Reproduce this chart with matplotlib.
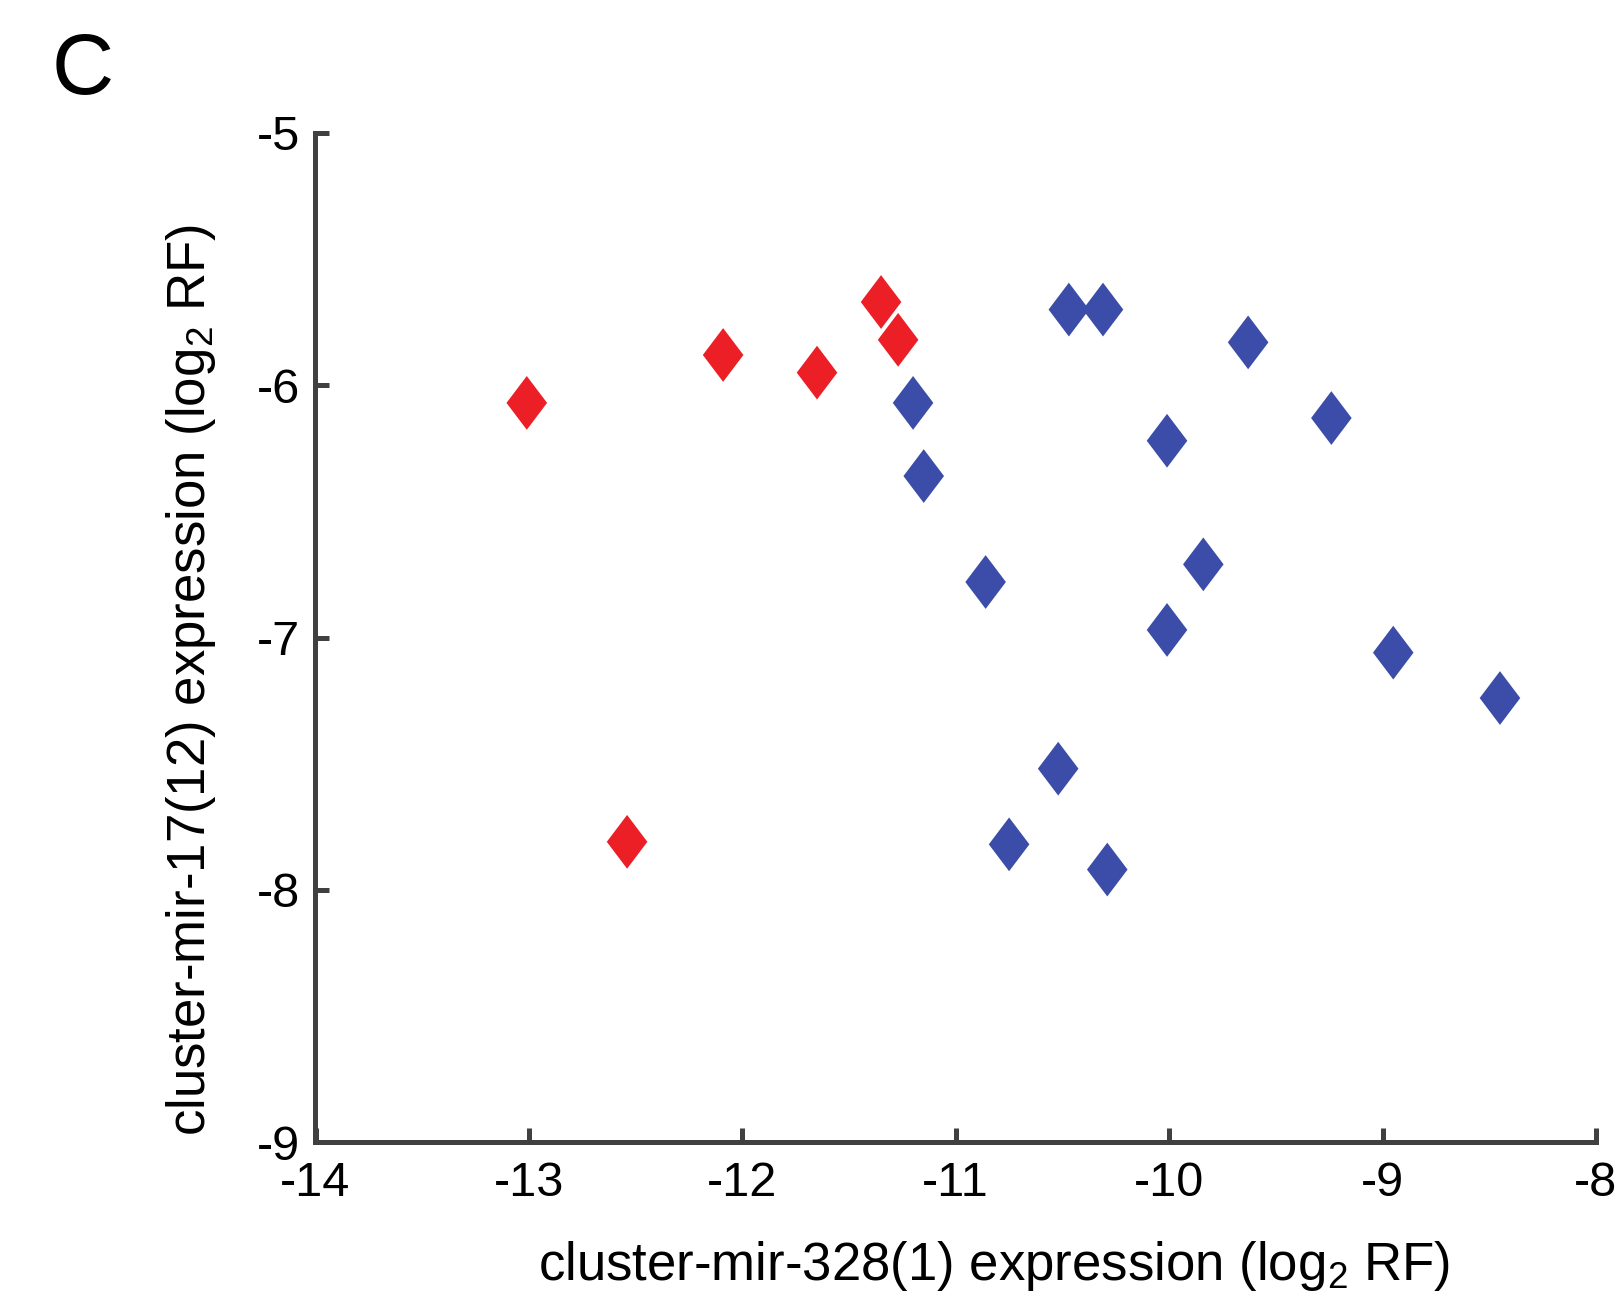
import matplotlib
matplotlib.use("Agg")
import matplotlib.pyplot as plt

# Expression values (log2 RF): x = cluster-mir-328(1), y = cluster-mir-17(12)
red_x = [-13.01, -12.54, -12.09, -11.65, -11.35, -11.27]
red_y = [-6.07, -7.81, -5.88, -5.95, -5.67, -5.82]

blue_x = [-11.20, -11.15, -10.86, -10.75, -10.52, -10.47, -10.31, -10.29,
          -10.01, -10.01, -9.84, -9.63, -9.24, -8.95, -8.45]
blue_y = [-6.07, -6.36, -6.78, -7.82, -7.52, -5.70, -5.70, -7.92,
          -6.22, -6.97, -6.71, -5.83, -6.13, -7.06, -7.24]

x_ticks = [-14, -13, -12, -11, -10, -9, -8]
y_ticks = [-9, -8, -7, -6, -5]

RED = "#ED1F26"
BLUE = "#3B4DA8"
AXIS_GREY = "#404040"

plt.rcParams["font.family"] = ["Liberation Sans", "DejaVu Sans"]
plt.rcParams["mathtext.fontset"] = "custom"
plt.rcParams["mathtext.rm"] = "Liberation Sans"
plt.rcParams["mathtext.it"] = "Liberation Sans"

W, H = 1624, 1298
fig = plt.figure(figsize=(W / 100, H / 100), dpi=100)
ax = fig.add_axes([315.5 / W, 1 - 1142 / H, (1596 - 315.5) / W, (1142 - 133) / H])

# tall, narrow diamond marker
diamond = [(0, 1), (0.755, 0), (0, -1), (-0.755, 0), (0, 1)]
msize = 38.7 ** 2
ax.scatter(red_x, red_y, marker=diamond, s=msize, c=RED, edgecolors="none", zorder=3)
ax.scatter(blue_x, blue_y, marker=diamond, s=msize, c=BLUE, edgecolors="none", zorder=3)

ax.set_xlim(-14, -8)
ax.set_ylim(-9, -5)
ax.set_xticks(x_ticks)
ax.set_yticks(y_ticks)
ax.set_xticklabels([f"{v}" for v in x_ticks])
ax.set_yticklabels([f"{v}" for v in y_ticks])

for side in ("top", "right"):
    ax.spines[side].set_visible(False)
for side in ("left", "bottom"):
    ax.spines[side].set_color(AXIS_GREY)
    ax.spines[side].set_linewidth(3.6)
    ax.spines[side].set_capstyle("projecting")

ax.tick_params(axis="both", direction="in", length=10.4, width=3.6,
               color=AXIS_GREY, labelsize=35, labelcolor="black")
ax.tick_params(axis="x", pad=14)
ax.tick_params(axis="y", pad=11)

# axis titles
LABEL_SIZE = 38
fig.text(538 / W, 1 - 1280 / H, r"cluster-mir-328(1) expression (log$_2$ RF)",
         fontsize=LABEL_SIZE, ha="left", va="baseline")
fig.text(205 / W, 1 - 1136 / H, r"cluster-mir-17(12) expression (log$_2$ RF)",
         fontsize=LABEL_SIZE, ha="left", va="baseline", rotation=90,
         rotation_mode="anchor")

# panel letter
fig.text(52 / W, 1 - 94 / H, "C", fontsize=62, ha="left", va="baseline")

fig.savefig("out.png", dpi=100)
